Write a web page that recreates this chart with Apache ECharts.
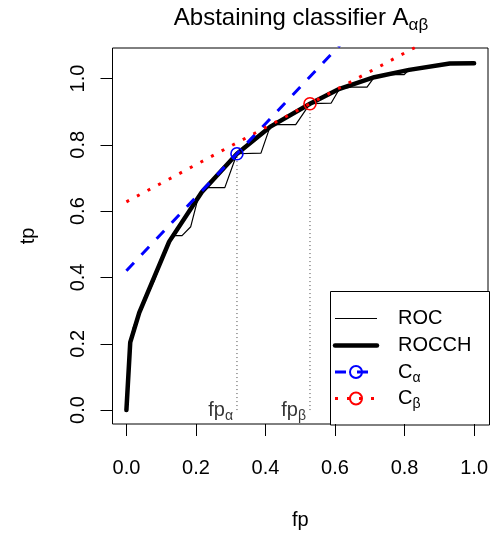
<!DOCTYPE html>
<html>
<head>
<meta charset="utf-8">
<script src="https://cdn.jsdelivr.net/npm/echarts@6/dist/echarts.min.js"></script>
<style>
html,body{margin:0;padding:0;background:#fff;}
#chart{width:491px;height:535px;}
</style>
</head>
<body>
<div id="chart"></div>
<script>
// ---- data ----
const tickValues = [0, 0.2, 0.4, 0.6, 0.8, 1.0];
const rocFp = [0, 0.011, 0.02, 0.037, 0.08, 0.123, 0.14, 0.16, 0.185, 0.207, 0.217, 0.228, 0.283, 0.318, 0.387, 0.413, 0.428, 0.487, 0.528, 0.589, 0.613, 0.647, 0.692, 0.713, 0.761, 0.799, 0.813, 0.85, 0.87, 0.89, 0.93, 1.0];
const rocTp = [0, 0.204, 0.25, 0.294, 0.39, 0.508, 0.526, 0.526, 0.553, 0.643, 0.658, 0.671, 0.671, 0.773, 0.775, 0.854, 0.861, 0.861, 0.924, 0.926, 0.969, 0.974, 0.974, 1.004, 1.012, 1.012, 1.026, 1.033, 1.035, 1.04, 1.045, 1.046];
const rocchFp = [0, 0.011, 0.037, 0.123, 0.217, 0.318, 0.413, 0.528, 0.613, 0.713, 0.813, 0.93, 1.0];
const rocchTp = [0, 0.204, 0.294, 0.508, 0.658, 0.773, 0.854, 0.924, 0.969, 1.004, 1.026, 1.045, 1.046];
const alphaLineFp = [0, 1];
const alphaLineTp = [0.42, 1.528];
const betaLineFp = [0, 1];
const betaLineTp = [0.628, 1.189];
const fpAlpha = 0.318, tpAlpha = 0.773;
const fpBeta = 0.528, tpBeta = 0.924;

const FONT = 'Liberation Sans, Arial, Helvetica, sans-serif';
const zip = (a, b) => a.map((v, i) => [v, b[i]]);

const chart = echarts.init(document.getElementById('chart'), null, {renderer: 'canvas'});

function tangentData(xs, ys, px, py) {
  const d = xs.map((x, i) => ({value: [x, ys[i]], symbol: 'none'}));
  d.splice(1, 0, {value: [px, py], symbol: 'circle'});
  return d;
}

const option = {
  animation: false,
  backgroundColor: '#fff',
  textStyle: {fontFamily: FONT},
  grid: {left: 112.5, top: 48, width: 377, height: 377, show: true, borderColor: '#000', borderWidth: 1},
  xAxis: {
    type: 'value', min: -0.04, max: 1.04,
    splitLine: {show: false},
    axisLine: {show: false, onZero: false},
    axisTick: {show: true, customValues: tickValues, length: 12, lineStyle: {color: '#000', width: 1}},
    axisLabel: {customValues: tickValues, formatter: v => v.toFixed(1), fontSize: 20, color: '#000', margin: 34, fontFamily: FONT},
    name: 'fp', nameLocation: 'middle', nameGap: 86,
    nameTextStyle: {fontSize: 20, color: '#000', fontFamily: FONT}
  },
  yAxis: {
    type: 'value', min: -0.042, max: 1.092,
    splitLine: {show: false},
    axisLine: {show: false, onZero: false},
    axisTick: {show: true, customValues: tickValues, length: 12, lineStyle: {color: '#000', width: 1}},
    axisLabel: {customValues: tickValues, formatter: v => v.toFixed(1), fontSize: 20, color: '#000', margin: 24, rotate: 90, fontFamily: FONT},
    name: 'tp', nameLocation: 'middle', nameGap: 74,
    nameTextStyle: {fontSize: 20, color: '#000', fontFamily: FONT}
  },
  series: [
    {
      name: 'ROC', type: 'line', data: zip(rocFp, rocTp), symbol: 'none', z: 3,
      lineStyle: {color: '#000', width: 1.2, join: 'round'}
    },
    {
      name: 'ROCCH', type: 'line', data: zip(rocchFp, rocchTp), symbol: 'none', z: 4,
      lineStyle: {color: '#000', width: 4.5, join: 'round', cap: 'round'}
    },
    {
      name: 'fpAlphaLine', type: 'line', data: [[fpAlpha, 0], [fpAlpha, tpAlpha]], symbol: 'none', z: 2,
      lineStyle: {color: '#444', width: 1, type: [1, 3]}
    },
    {
      name: 'fpBetaLine', type: 'line', data: [[fpBeta, 0], [fpBeta, tpBeta]], symbol: 'none', z: 2,
      lineStyle: {color: '#444', width: 1, type: [1, 3]}
    },
    {
      name: 'Calpha', type: 'line', data: tangentData(alphaLineFp, alphaLineTp, fpAlpha, tpAlpha),
      symbolSize: 12, showSymbol: true, z: 5,
      itemStyle: {color: 'rgba(0,0,0,0)', borderColor: '#0000ff', borderWidth: 1.6},
      lineStyle: {color: '#0000ff', width: 3, type: [11, 11], cap: 'butt'}
    },
    {
      name: 'Cbeta', type: 'line', data: tangentData(betaLineFp, betaLineTp, fpBeta, tpBeta),
      symbolSize: 12, showSymbol: true, z: 5,
      itemStyle: {color: 'rgba(0,0,0,0)', borderColor: '#ff0000', borderWidth: 1.6},
      lineStyle: {color: '#ff0000', width: 3, type: [3, 9], cap: 'butt'}
    },
    {
      name: 'fpLabels', type: 'scatter', symbolSize: 0, z: 6,
      data: [
        {value: [fpAlpha, 0], sub: 'α'},
        {value: [fpBeta, 0], sub: 'β'}
      ],
      label: {
        show: true, position: 'left', distance: 4, color: '#000', fontFamily: FONT,
        formatter: p => '{a|fp}{s|' + p.data.sub + '}',
        rich: {
          a: {fontSize: 20, fontFamily: FONT, color: '#000', lineHeight: 22},
          s: {fontSize: 14, fontFamily: FONT, color: '#000', lineHeight: 16, padding: [12, 0, 0, 0]}
        }
      }
    }
  ],
  graphic: [
    {
      type: 'text', left: null, x: 301, y: 18, z: 10,
      style: {
        text: '{a|Abstaining classifier A}{s|αβ}', align: 'center', verticalAlign: 'middle',
        rich: {
          a: {fontSize: 24, fontFamily: FONT, fill: '#000', lineHeight: 26},
          s: {fontSize: 17, fontFamily: FONT, fill: '#000', lineHeight: 18, padding: [14, 0, 0, 0]}
        }
      }
    },
    {
      type: 'group', z: 20,
      children: [
        {type: 'rect', shape: {x: 330.5, y: 291.5, width: 159, height: 133.5}, style: {fill: '#fff', stroke: '#000', lineWidth: 1}},
        {type: 'line', shape: {x1: 335, y1: 318.5, x2: 377, y2: 318.5}, style: {stroke: '#000', lineWidth: 1.2}},
        {type: 'line', shape: {x1: 335, y1: 345.5, x2: 377, y2: 345.5}, style: {stroke: '#000', lineWidth: 4.5, lineCap: 'round'}},
        {type: 'line', shape: {x1: 335, y1: 372, x2: 377, y2: 372}, style: {stroke: '#0000ff', lineWidth: 3, lineDash: [11, 11], lineDashOffset: 0}},
        {type: 'circle', shape: {cx: 356, cy: 372, r: 6}, style: {fill: 'none', stroke: '#0000ff', lineWidth: 2}},
        {type: 'line', shape: {x1: 335, y1: 398.5, x2: 377, y2: 398.5}, style: {stroke: '#ff0000', lineWidth: 3, lineDash: [3, 9]}},
        {type: 'circle', shape: {cx: 356, cy: 398.5, r: 6}, style: {fill: 'none', stroke: '#ff0000', lineWidth: 2}},
        {type: 'text', x: 398, y: 318.5, style: {text: 'ROC', font: '20px ' + FONT, fill: '#000', verticalAlign: 'middle'}},
        {type: 'text', x: 398, y: 345.5, style: {text: 'ROCCH', font: '20px ' + FONT, fill: '#000', verticalAlign: 'middle'}},
        {type: 'text', x: 398, y: 372, style: {
          text: '{a|C}{s|α}', verticalAlign: 'middle',
          rich: {a: {fontSize: 20, fontFamily: FONT, fill: '#000', lineHeight: 22}, s: {fontSize: 14, fontFamily: FONT, fill: '#000', lineHeight: 16, padding: [12, 0, 0, 0]}}
        }},
        {type: 'text', x: 398, y: 398.5, style: {
          text: '{a|C}{s|β}', verticalAlign: 'middle',
          rich: {a: {fontSize: 20, fontFamily: FONT, fill: '#000', lineHeight: 22}, s: {fontSize: 14, fontFamily: FONT, fill: '#000', lineHeight: 16, padding: [12, 0, 0, 0]}}
        }}
      ]
    }
  ]
};
chart.setOption(option);
</script>
</body>
</html>
